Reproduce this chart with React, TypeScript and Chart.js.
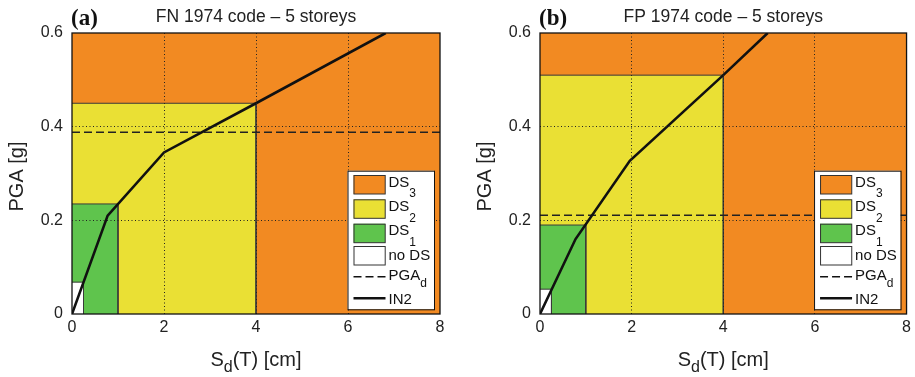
import React, { useEffect, useRef } from 'react';
import { Chart, registerables } from 'chart.js';
Chart.register(...registerables);

// ---------- data ----------
const sdRange = [0, 8];
const sdStep = 2;
const pgaRange = [0, 0.6];
const pgaStep = 0.2;

const panelLetters = ['(a)', '(b)'];
const panelTitles = ['FN 1974 code \u2013 5 storeys', 'FP 1974 code \u2013 5 storeys'];

// upper Sd / PGA of the "no DS", DS1 and DS2 domains
const sdLimitsA = [0.25, 1.0, 4.0];
const pgaLimitsA = [0.068, 0.235, 0.45];
const pgaDesignA = 0.388;
const in2SdA = [0, 0.775, 2.0, 4.0, 6.82];
const in2PgaA = [0, 0.21, 0.345, 0.45, 0.6];

const sdLimitsB = [0.25, 1.0, 4.0];
const pgaLimitsB = [0.053, 0.19, 0.51];
const pgaDesignB = 0.211;
const in2SdB = [0, 0.776, 1.96, 4.0, 4.97];
const in2PgaB = [0, 0.16, 0.327, 0.51, 0.6];

const legendLabels = ['DS', 'DS', 'DS', 'no DS', 'PGA', 'IN2'];
const legendSubs = ['3', '2', '1', '', 'd', ''];

// ---------- styles ----------
const ORANGE = '#F28A22';
const YELLOW = '#EAE034';
const GREEN = '#5FC44D';
const WHITE = '#FFFFFF';
const EDGE = '#3a3a3a';
const SANS = '"Liberation Sans", Arial, sans-serif';
const SERIF = '"Liberation Serif", "Times New Roman", serif';

function rect(sd: number, pga: number) {
  return [
    { x: 0, y: pga },
    { x: sd, y: pga },
    { x: sd, y: 0 },
  ];
}

function buildDatasets(sdL: number[], pgaL: number[], pgaD: number, in2Sd: number[], in2Pga: number[]) {
  return [
    {
      label: 'IN2',
      data: in2Sd.map((x, i) => ({ x, y: in2Pga[i] })),
      borderColor: '#111',
      borderWidth: 2.6,
      fill: false,
      pointRadius: 0,
    },
    {
      label: 'PGAd',
      data: [
        { x: sdRange[0], y: pgaD },
        { x: sdRange[1], y: pgaD },
      ],
      borderColor: '#222',
      borderWidth: 1.6,
      borderDash: [8, 4],
      fill: false,
      pointRadius: 0,
    },
    {
      label: 'no DS',
      data: rect(sdL[0], pgaL[0]),
      borderColor: EDGE,
      borderWidth: 1,
      backgroundColor: WHITE,
      fill: 'origin',
      pointRadius: 0,
    },
    {
      label: 'DS1',
      data: rect(sdL[1], pgaL[1]),
      borderColor: EDGE,
      borderWidth: 1,
      backgroundColor: GREEN,
      fill: 'origin',
      pointRadius: 0,
    },
    {
      label: 'DS2',
      data: rect(sdL[2], pgaL[2]),
      borderColor: EDGE,
      borderWidth: 1,
      backgroundColor: YELLOW,
      fill: 'origin',
      pointRadius: 0,
    },
    {
      label: 'DS3',
      data: [
        { x: sdRange[0], y: pgaRange[1] },
        { x: sdRange[1], y: pgaRange[1] },
      ],
      borderColor: ORANGE,
      borderWidth: 0,
      backgroundColor: ORANGE,
      fill: 'origin',
      pointRadius: 0,
    },
  ];
}

function drawParts(
  ctx: CanvasRenderingContext2D,
  parts: { t: string; sub?: boolean }[],
  x: number,
  y: number,
  mainFont: string,
  subFont: string,
  subDy: number,
  align: 'left' | 'center'
) {
  let total = 0;
  const widths = parts.map((p) => {
    ctx.font = p.sub ? subFont : mainFont;
    const w = ctx.measureText(p.t).width;
    total += w;
    return w;
  });
  let cx = align === 'center' ? x - total / 2 : x;
  ctx.textAlign = 'left';
  ctx.textBaseline = 'alphabetic';
  parts.forEach((p, i) => {
    ctx.font = p.sub ? subFont : mainFont;
    ctx.fillText(p.t, cx, p.sub ? y + subDy : y);
    cx += widths[i];
  });
}

const decorPlugin = {
  id: 'decor',
  afterDraw(chart: any, _args: any, opts: any) {
    const ctx: CanvasRenderingContext2D = chart.ctx;
    const ca = chart.chartArea;
    ctx.save();
    // frame
    ctx.strokeStyle = '#111';
    ctx.lineWidth = 1.3;
    ctx.setLineDash([]);
    ctx.strokeRect(ca.left, ca.top, ca.right - ca.left, ca.bottom - ca.top);

    // legend
    const bx = ca.right - 92.5;
    const by = ca.bottom - 143.3;
    const bw = 86.5;
    const bh = 138.6;
    ctx.fillStyle = '#fff';
    ctx.fillRect(bx, by, bw, bh);
    ctx.strokeStyle = '#111';
    ctx.lineWidth = 1;
    ctx.strokeRect(bx + 0.5, by + 0.5, bw, bh);
    const patchTops = [4.3, 28.6, 53.0, 75.3];
    const patchColors = [ORANGE, YELLOW, GREEN, WHITE];
    const baselines = [16, 40.3, 64.6, 89.3, 108.8, 133.3];
    patchTops.forEach((t, i) => {
      ctx.fillStyle = patchColors[i];
      ctx.fillRect(bx + 6, by + t, 31.7, 19);
      ctx.strokeStyle = '#333';
      ctx.lineWidth = 1;
      ctx.strokeRect(bx + 6.5, by + t + 0.5, 31.2, 18.5);
    });
    // dashed line
    ctx.strokeStyle = '#111';
    ctx.lineWidth = 1.6;
    ctx.setLineDash([8, 4]);
    ctx.beginPath();
    ctx.moveTo(bx + 6, by + 106);
    ctx.lineTo(bx + 38, by + 106);
    ctx.stroke();
    ctx.setLineDash([]);
    ctx.lineWidth = 2.6;
    ctx.beginPath();
    ctx.moveTo(bx + 6, by + 127.6);
    ctx.lineTo(bx + 38, by + 127.6);
    ctx.stroke();
    ctx.fillStyle = '#111';
    legendLabels.forEach((lab, i) => {
      const sub = legendSubs[i];
      const parts = sub ? [{ t: lab }, { t: sub, sub: true }] : [{ t: lab }];
      drawParts(ctx, parts, bx + 41, by + baselines[i], `15px ${SANS}`, `12px ${SANS}`, sub === 'd' ? 7 : 10.5, 'left');
    });

    // titles
    ctx.fillStyle = '#111';
    ctx.font = `bold 23px ${SERIF}`;
    ctx.textAlign = 'left';
    ctx.textBaseline = 'alphabetic';
    ctx.fillText(opts.letter, ca.left - 1, 24.5);
    ctx.fillStyle = '#222';
    ctx.font = `17.5px ${SANS}`;
    ctx.textAlign = 'center';
    ctx.fillText(opts.title, (ca.left + ca.right) / 2, 21.7);

    // x title
    drawParts(
      ctx,
      [{ t: 'S' }, { t: 'd', sub: true }, { t: '(T) [cm]' }],
      (ca.left + ca.right) / 2,
      366,
      `20px ${SANS}`,
      `16px ${SANS}`,
      6,
      'center'
    );
    // y title
    ctx.save();
    ctx.translate(ca.left - 49.3, (ca.top + ca.bottom) / 2 + 3);
    ctx.rotate(-Math.PI / 2);
    ctx.font = `20px ${SANS}`;
    ctx.textAlign = 'center';
    ctx.textBaseline = 'alphabetic';
    ctx.fillText('PGA [g]', 0, 0);
    ctx.restore();

    ctx.restore();
  },
};

function makeOptions(yAxisWidth: number, padRight: number, letter: string, title: string) {
  const gridColor = (edges: number[]) => (c: any) =>
    c.tick && edges.some((e) => Math.abs(c.tick.value - e) < 1e-9) ? 'rgba(0,0,0,0)' : '#222';
  return {
    responsive: false,
    animation: false,
    events: [],
    layout: { padding: { left: 0, top: 33, right: padRight, bottom: 0 } },
    plugins: {
      legend: { display: false },
      tooltip: { enabled: false },
      decor: { letter, title },
    },
    scales: {
      x: {
        type: 'linear',
        min: sdRange[0],
        max: sdRange[1],
        afterFit: (s: any) => {
          s.height = 63;
        },
        border: { display: false, dash: [1, 2.5] },
        grid: { color: gridColor(sdRange), lineWidth: 1, drawTicks: false, z: 1 },
        ticks: {
          stepSize: sdStep,
          padding: 4,
          color: '#222',
          font: { family: SANS, size: 16 },
          maxRotation: 0,
        },
      },
      y: {
        type: 'linear',
        min: pgaRange[0],
        max: pgaRange[1],
        afterFit: (s: any) => {
          s.width = yAxisWidth;
        },
        border: { display: false, dash: [1, 2.5] },
        grid: { color: gridColor(pgaRange), lineWidth: 1, drawTicks: false, z: 1 },
        ticks: {
          stepSize: pgaStep,
          padding: 9,
          color: '#222',
          font: { family: SANS, size: 16 },
          callback: (v: number) => (Math.abs(v) < 1e-9 ? '0' : Number(v).toFixed(1)),
        },
      },
    },
  };
}

function Panel(props: {
  left: number;
  width: number;
  yAxisWidth: number;
  padRight: number;
  idx: number;
  datasets: any[];
}) {
  const ref = useRef<HTMLCanvasElement>(null);
  useEffect(() => {
    if (!ref.current) return;
    const chart = new Chart(ref.current, {
      type: 'line',
      data: { datasets: props.datasets },
      options: makeOptions(props.yAxisWidth, props.padRight, panelLetters[props.idx], panelTitles[props.idx]) as any,
      plugins: [decorPlugin],
    });
    return () => chart.destroy();
  }, []);
  return (
    <div style={{ position: 'absolute', left: props.left, top: 0, width: props.width, height: 377 }}>
      <canvas ref={ref} width={props.width} height={377} />
    </div>
  );
}

export default function App() {
  const dsA = buildDatasets(sdLimitsA, pgaLimitsA, pgaDesignA, in2SdA, in2PgaA);
  const dsB = buildDatasets(sdLimitsB, pgaLimitsB, pgaDesignB, in2SdB, in2PgaB);
  return (
    <div style={{ position: 'fixed', left: 0, top: 0, width: 915, height: 377, background: '#fff' }}>
      <Panel left={0} width={457} yAxisWidth={72} padRight={17} idx={0} datasets={dsA} />
      <Panel left={457} width={458} yAxisWidth={83} padRight={7} idx={1} datasets={dsB} />
    </div>
  );
}
